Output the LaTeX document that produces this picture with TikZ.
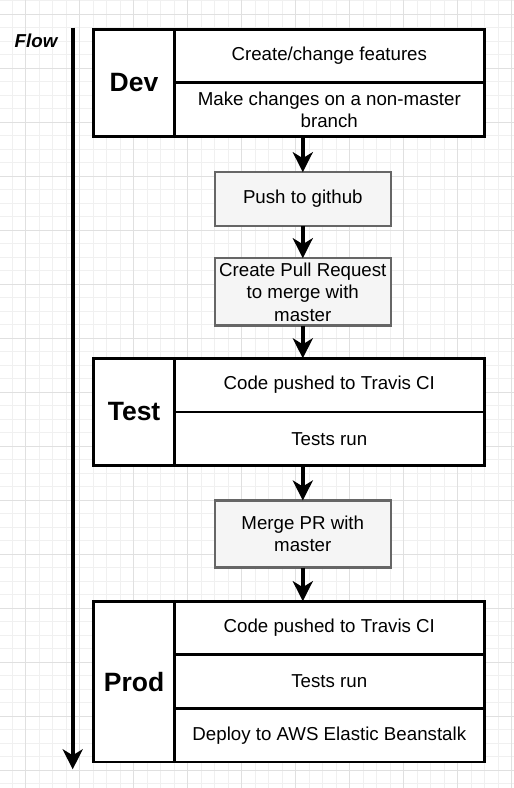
\documentclass[tikz,border=0pt]{standalone}
\usepackage{fontspec}
\setmainfont{Liberation Sans}
\usetikzlibrary{positioning}
\usetikzlibrary{arrows.meta}

\definecolor{boxfill}{HTML}{F5F5F5}
\definecolor{boxline}{HTML}{666666}
\definecolor{gridminor}{HTML}{F0F0F0}
\definecolor{gridmajor}{HTML}{E0E0E0}

\begin{document}
\begin{tikzpicture}[x=1pt,y=-1pt,>={Stealth[length=20pt,width=20pt,inset=6pt]},
	txt/.style={font=\fontsize{18.7}{22.5}\selectfont},
	stage/.style={draw,line width=2.7pt,fill=white,inner sep=2pt,outer sep=0pt,align=center,txt},
	stage name/.style={stage,minimum width=80.5pt,font=\fontsize{26.5}{30}\selectfont\bfseries},
	stage row/.style={stage,minimum width=310pt,minimum height=53.6pt},
	step node/.style={draw=boxline,fill=boxfill,line width=2.3pt,inner sep=2pt,outer sep=0pt,
		align=center,minimum width=176pt,minimum height=53.6pt,txt},
	flow/.style={->,line width=4pt}]
	
	% page and grid
	\fill[white] (0,0) rectangle (514,788);
	\useasboundingbox (0,0) rectangle (514,788);
	\begin{scope}
		\clip (0,0) rectangle (514,788);
		\draw[gridminor,line width=0.8pt,step=13.5pt,xshift=25.7pt,yshift=-14.3pt] (-30pt,30pt) grid (500pt,-790pt);
		\draw[gridmajor,line width=0.8pt,step=54pt,xshift=25.7pt,yshift=-14.3pt] (-60pt,60pt) grid (540pt,-810pt);
	\end{scope}
	
	\node[txt,font=\fontsize{18.7}{22.5}\selectfont\bfseries\itshape] (flowlbl) at (36,41) {Flow};
	\coordinate (flowtop) at (72.7,27.7);
	\coordinate (flowend) at (72.7,769.3);
	
	% Dev
	\node[stage name,minimum height=107.2pt,anchor=north west] (dev) at (93.8,29.2) {Dev};
	\node[stage row,anchor=north west] (devA) at (dev.north east) {Create/change features};
	\node[stage row] (devB) [below=0pt of devA] {Make changes on a non-master\\branch};
	
	\node[step node] (push) at (302.8,199) {Push to github};
	\node[step node,minimum height=67.3pt] (pull) [below=32.4pt of push] {Create Pull Request\\to merge with\\master};
	
	% Test
	\node[stage name,minimum height=107.2pt,anchor=north west] (test) at (93.8,358.3) {Test};
	\node[stage row,anchor=north west] (testA) at (test.north east) {Code pushed to Travis CI};
	\node[stage row] (testB) [below=0pt of testA] {Tests run};
	
	\node[step node,minimum height=67pt] (merge) at (302.8,534) {Merge PR with\\master};
	
	% Prod
	\node[stage name,minimum height=160.8pt,anchor=north west] (prod) at (93.8,601.2) {Prod};
	\node[stage row,anchor=north west] (prodA) at (prod.north east) {Code pushed to Travis CI};
	\node[stage row] (prodB) [below=0pt of prodA] {Tests run};
	\node[stage row] (prodC) [below=0pt of prodB] {Deploy to AWS Elastic Beanstalk};
	
	\draw[flow] (flowtop) -- (flowend);
	\draw[flow] (devB.south -| push) -- (push);
	\draw[flow] (push) -- (pull);
	\draw[flow] (pull) -- (pull |- testA.north);
	\draw[flow] (testB.south -| merge) -- (merge);
	\draw[flow] (merge) -- (merge |- prodA.north);
\end{tikzpicture}
\end{document}
